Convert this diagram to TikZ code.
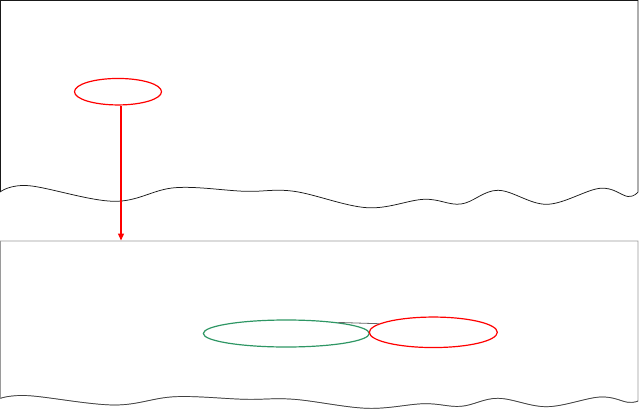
\documentclass[tikz,border=0pt]{standalone}
\usetikzlibrary{shapes.geometric,arrows.meta}
\definecolor{myred}{HTML}{FF0000}
\definecolor{mygreen}{HTML}{2E9664}
\definecolor{panelgray}{HTML}{9A9A9A}
\definecolor{linegray}{HTML}{666666}
\tikzset{
  oval/.style={ellipse, draw, line width=1.2pt, inner sep=0pt},
  redoval/.style={oval, draw=myred},
  greenoval/.style={oval, draw=mygreen},
}
\begin{document}
\begin{tikzpicture}[x=1pt,y=-1pt]
\useasboundingbox (0,0) rectangle (639,409);
% top panel
\draw[line width=0.75pt, draw=black!90] plot[smooth, tension=0.6] coordinates {(0.5,191.7) (29,185.7) (114,201.3) (175,187.7) (245,191.3) (294,191.3) (367,207.7) (424,199.3) (461,204) (498,190.3) (547,204.3) (600,188.3) (628,196.5) (638,192)} -- (638,0.5) -- (0.5,0.5) -- cycle;
% bottom panel
\draw[line width=0.75pt, draw=panelgray] plot[smooth, tension=0.6] coordinates {(0.5,398.3) (29,395.7) (114,405) (175,396.7) (245,399.3) (294,399.3) (367,408.3) (424,403.7) (461,406.3) (498,398.3) (547,406.7) (600,397) (628,402.3) (638,401)} -- (638,241) -- (0.5,241) -- cycle;
\draw[line width=0.7pt, draw=black!75] plot[smooth, tension=0.6] coordinates {(0.5,398.3) (29,395.7) (114,405) (175,396.7) (245,399.3) (294,399.3) (367,408.3) (424,403.7) (461,406.3) (498,398.3) (547,406.7) (600,397) (628,402.3) (638,401)};
% ellipses
\node[redoval, minimum width=87pt, minimum height=26.5pt] (a) at (118,91.7) {};
\node[greenoval, minimum width=166pt, minimum height=27pt] (g) at (286.3,333.5) {};
\node[redoval, minimum width=128pt, minimum height=30.5pt] (r) at (433.3,332.3) {};
\coordinate (t) at (121,240.5);
% connectors
\draw[myred, line width=1.3pt, -{Triangle[length=7pt,width=6pt]}] (a.south -| t) -- (t);
\draw[linegray, line width=0.8pt] (g.12) -- (r.171);
\end{tikzpicture}
\end{document}
